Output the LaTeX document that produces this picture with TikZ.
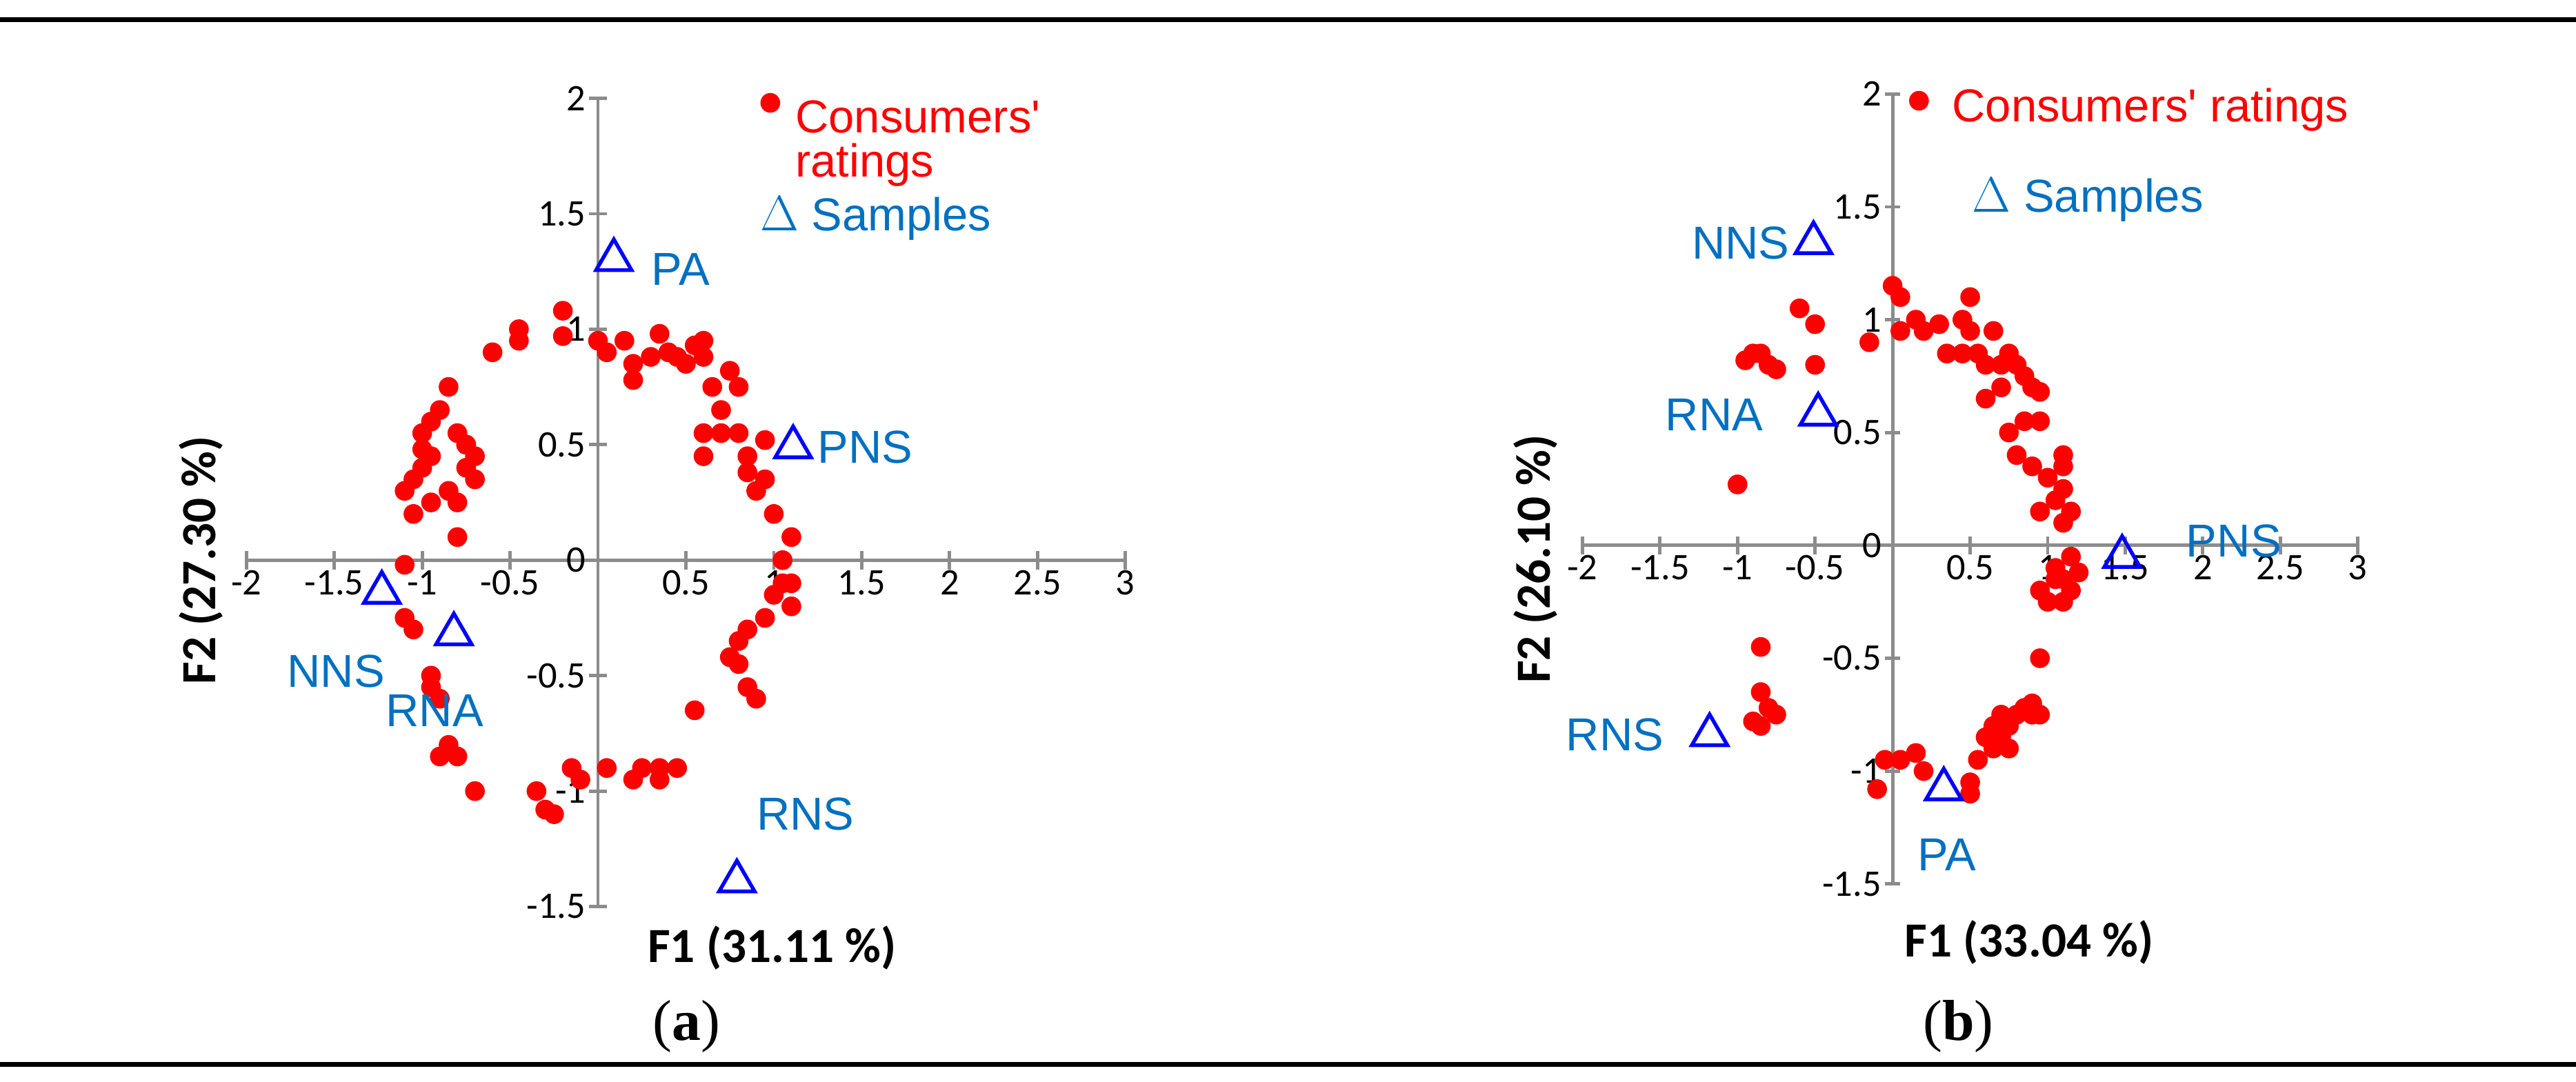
\documentclass[tikz,border=0pt]{standalone}
\usepackage{fontspec}
\setmainfont{Carlito}
\newfontfamily\serifface{Liberation Serif}
\newfontfamily\labface{Liberation Sans}
\usetikzlibrary{shapes.geometric,positioning}
\definecolor{labblue}{RGB}{0,112,192}
\definecolor{axgray}{RGB}{140,140,140}

\begin{document}
\begin{tikzpicture}
            \tikzset{
              axis/.style={axgray,line width=0.04cm},
              tick/.style={font=\fontsize{13}{13}\selectfont,inner sep=1pt},
              rating/.style={circle,fill=red,inner sep=0pt,minimum size=0.24cm},
              sample/.style={regular polygon,regular polygon sides=3,draw=blue,line width=1.3pt,inner sep=0pt,minimum size=0.5cm},
              samplelab/.style={labblue,font=\labface\fontsize{16}{16}\selectfont},
              legend/.style={anchor=west,font=\labface\fontsize{16}{16}\selectfont,inner sep=0pt},
              title/.style={font=\bfseries\fontsize{17}{17}\selectfont}
            }
            \useasboundingbox (0,0) rectangle (31.36,-13.17);
            \draw [line width=0.06cm] (0,-0.24) -- (31.36,-0.24);
            \draw [line width=0.06cm] (0,-12.96) -- (31.36,-12.96);
            % panel a
            \begin{scope}[shift={(7.28,-6.82)},x=2.14cm,y=2.812cm]
            \draw [axis] (-2,0) -- (3,0);
            \draw [axis] (0,-1.5) -- (0,2);
            \foreach \v in {-2,-1.5,...,3} \draw [axis] (\v,-0.04) -- (\v,0.04);
            \foreach \v in {-1.5,-1,...,2} \draw [axis] (-0.05,\v) -- (0.05,\v);
            \foreach \v/\t in {-2/-2,-1.5/-1.5,-1/-1,-0.5/-0.5,0.5/0.5,1/1,1.5/1.5,2/2,2.5/2.5,3/3}
              \node [tick,below] at (\v,-0.03) {\t};
            \foreach \v/\t in {-1.5/-1.5,-1/-1,-0.5/-0.5,0/0,0.5/0.5,1/1,1.5/1.5,2/2}
              \node [tick,left] at (-0.05,\v) {\t};
            \foreach \p in {(-0.2,1.08),(-0.2,0.97),(-0.45,1.0),(-0.45,0.95),(-0.6,0.9),(0.0,0.95),(0.05,0.9),(0.15,0.95),(0.2,0.85),(0.2,0.78),(0.3,0.88),(0.35,0.98),(0.4,0.9),(0.45,0.88),(0.5,0.85),(0.55,0.93),(0.6,0.95),(0.6,0.88),(0.65,0.75),(0.7,0.65),(0.75,0.82),(0.8,0.75),(0.7,0.55),(0.6,0.55),(0.6,0.45),(0.8,0.55),(0.85,0.45),(0.85,0.38),(0.95,0.52),(0.9,0.3),(0.95,0.35),(1.0,0.2),(1.05,0.0),(1.05,-0.1),(1.1,0.1),(1.1,-0.1),(1.1,-0.2),(1.0,-0.15),(0.95,-0.25),(0.85,-0.3),(0.8,-0.35),(0.75,-0.42),(0.8,-0.45),(0.85,-0.55),(0.9,-0.6),(0.55,-0.65),(0.45,-0.9),(0.35,-0.9),(0.35,-0.95),(0.25,-0.9),(0.2,-0.95),(0.05,-0.9),(-0.1,-0.95),(-0.15,-0.9),(-0.25,-1.1),(-0.3,-1.08),(-0.35,-1.0),(-0.7,-1.0),(-0.8,-0.85),(-0.85,-0.8),(-0.9,-0.85),(-0.95,-0.55),(-0.95,-0.5),(-0.9,-0.6),(-1.05,-0.3),(-1.1,-0.25),(-1.1,-0.02),(-1.05,0.2),(-1.1,0.3),(-1.05,0.35),(-1.0,0.4),(-1.0,0.48),(-1.0,0.55),(-0.95,0.45),(-0.95,0.6),(-0.9,0.65),(-0.85,0.75),(-0.8,0.55),(-0.75,0.5),(-0.85,0.3),(-0.8,0.25),(-0.8,0.1),(-0.75,0.4),(-0.7,0.35),(-0.7,0.45),(-0.75,0.5),(-0.95,0.25)}
              \node [rating] at \p {};
            \node [sample] (pa) at (0.09,1.3) {};
            \node [sample] (pns) at (1.11,0.49) {};
            \node [sample] (nns) at (-1.23,-0.14) {};
            \node [sample] (rna) at (-0.82,-0.32) {};
            \node [sample] (rns) at (0.79,-1.39) {};
            \node [samplelab] (paL) at (0.47,1.26) {PA};
            \node [samplelab] (pnsL) at (1.52,0.49) {PNS};
            \node [samplelab] (nnsL) at (-1.49,-0.48) {NNS};
            \node [samplelab] (rnaL) at (-0.93,-0.65) {RNA};
            \node [samplelab] (rnsL) at (1.18,-1.1) {RNS};
            \node [rating] (legA) at (0.98,1.98) {};
            \node [legend,red] (consA) at (1.12,1.92) {Consumers\textquotesingle};
            \node [legend,red] (ratA) at (1.12,1.71) {ratings};
            \node [legend,labblue] (sampA) at (0.92,1.48) {$\Delta$ Samples};
            \node [title] (f1a) at (0.99,-1.68) {F1 (31.11 \%)};
            \node [title,rotate=90] (f2a) at (-2.26,0) {F2 (27.30 \%)};
            \end{scope}
            % panel b
            \begin{scope}[shift={(23.04,-6.64)},x=1.888cm,y=2.748cm]
            \draw [axis] (-2,0) -- (3,0);
            \draw [axis] (0,-1.5) -- (0,2);
            \foreach \v in {-2,-1.5,...,3} \draw [axis] (\v,-0.04) -- (\v,0.04);
            \foreach \v in {-1.5,-1,...,2} \draw [axis] (-0.05,\v) -- (0.05,\v);
            \foreach \v/\t in {-2/-2,-1.5/-1.5,-1/-1,-0.5/-0.5,0.5/0.5,1/1,1.5/1.5,2/2,2.5/2.5,3/3}
              \node [tick,below] at (\v,-0.03) {\t};
            \foreach \v/\t in {-1.5/-1.5,-1/-1,-0.5/-0.5,0/0,0.5/0.5,1/1,1.5/1.5,2/2}
              \node [tick,left] at (-0.05,\v) {\t};
            \foreach \p in {(-0.95,0.82),(-0.9,0.85),(-0.85,0.85),(-0.8,0.8),(-0.75,0.78),(-0.6,1.05),(-0.5,0.98),(-0.5,0.8),(-1.0,0.27),(-0.85,-0.45),(-0.85,-0.65),(-0.8,-0.72),(-0.75,-0.75),(-0.9,-0.78),(-0.85,-0.8),(0.05,-0.95),(-0.05,-0.95),(0.15,-0.92),(0.2,-1.0),(-0.1,-1.08),(0.5,-1.05),(0.5,-1.1),(0.55,-0.95),(0.6,-0.85),(0.65,-0.8),(0.7,-0.75),(0.75,-0.8),(0.8,-0.75),(0.85,-0.72),(0.9,-0.75),(0.9,-0.7),(0.95,-0.75),(0.75,-0.9),(0.7,-0.85),(0.65,-0.9),(0.95,-0.5),(0.95,-0.2),(1.0,-0.25),(1.05,-0.15),(1.1,-0.15),(1.1,-0.25),(1.15,-0.05),(1.15,-0.2),(1.05,-0.1),(1.2,-0.12),(0.0,1.15),(0.05,1.1),(0.15,1.0),(0.2,0.95),(0.3,0.98),(0.35,0.85),(0.45,0.85),(0.5,1.1),(0.45,1.0),(0.5,0.95),(0.55,0.85),(0.6,0.8),(0.65,0.95),(0.7,0.8),(0.75,0.85),(0.8,0.8),(0.85,0.75),(0.9,0.7),(0.95,0.68),(0.7,0.7),(0.6,0.65),(0.75,0.5),(0.8,0.4),(0.85,0.55),(0.95,0.55),(0.9,0.35),(1.0,0.3),(1.05,0.2),(1.1,0.35),(1.1,0.4),(1.1,0.25),(1.1,0.1),(1.15,0.15),(0.95,0.15),(0.05,0.95),(-0.15,0.9)}
              \node [rating] at \p {};
            \node [sample] (pa) at (0.33,-1.08) {};
            \node [sample] (pns) at (1.48,-0.05) {};
            \node [sample] (nns) at (-0.51,1.34) {};
            \node [sample] (rna) at (-0.48,0.58) {};
            \node [sample] (rns) at (-1.18,-0.84) {};
            \node [samplelab] (paL) at (0.35,-1.37) {PA};
            \node [samplelab] (pnsL) at (2.2,0.02) {PNS};
            \node [samplelab] (nnsL) at (-0.98,1.34) {NNS};
            \node [samplelab] (rnaL) at (-1.15,0.58) {RNA};
            \node [samplelab] (rnsL) at (-1.79,-0.84) {RNS};
            \node [rating] (legB) at (0.17,1.97) {};
            \node [legend,red] (consB) at (0.38,1.93) {Consumers\textquotesingle\ ratings};
            \node [legend,labblue] (sampB) at (0.51,1.53) {$\Delta$ Samples};
            \node [title] (f1b) at (0.88,-1.76) {F1 (33.04 \%)};
            \node [title,rotate=90] (f2b) at (-2.30,-0.06) {F2 (26.10 \%)};
            \end{scope}
            \node [font=\serifface\fontsize{20}{20}\selectfont] (capA) at (8.36,-12.5) {(\textbf{a})};
            \node [font=\serifface\fontsize{20}{20}\selectfont] (capB) at (23.84,-12.5) {(\textbf{b})};
\end{tikzpicture}
\end{document}
